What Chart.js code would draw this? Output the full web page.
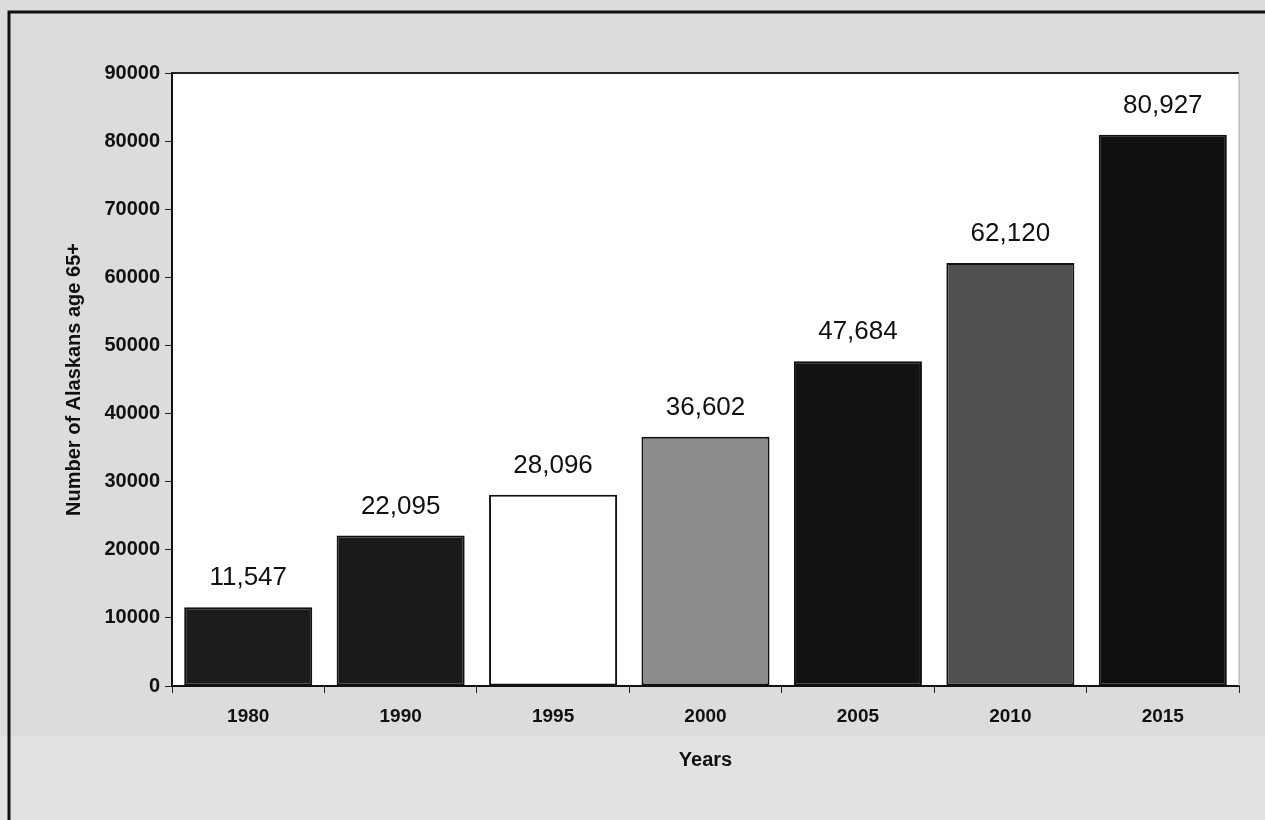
<!DOCTYPE html>
<html>
<head>
<meta charset="utf-8">
<script src="https://cdn.jsdelivr.net/npm/chart.js@4/dist/chart.umd.min.js"></script>
<style>
    html, body { margin: 0; padding: 0; background: #ffffff; }
    #wrap { width: 1265px; height: 820px; position: relative; }
</style>
</head>
<body>
<div id="wrap"><canvas id="popChart" width="1265" height="820"></canvas></div>
<script>
const years = ['1980', '1990', '1995', '2000', '2005', '2010', '2015'];
const seniors = [11547, 22095, 28096, 36602, 47684, 62120, 80927];
const barColors = ['#1c1c1c', '#1a1a1a', '#ffffff', '#8c8c8c', '#131313', '#505050', '#101010'];
const yTicks = [0, 10000, 20000, 30000, 40000, 50000, 60000, 70000, 80000, 90000];

const FONT = '"Liberation Sans", Arial, sans-serif';

// paper background, white plot area, frame lines
const paperPlugin = {
    id: 'paper',
    beforeDraw(chart) {
        const ctx = chart.ctx;
        const area = chart.chartArea;
        ctx.save();
        ctx.fillStyle = '#dcdcdc';
        ctx.fillRect(0, 0, chart.width, chart.height);
        ctx.fillStyle = '#e2e2e2';
        ctx.fillRect(0, area.bottom + 50, chart.width, chart.height);
        ctx.fillStyle = '#ffffff';
        ctx.fillRect(area.left, area.top, area.right - area.left, area.bottom - area.top);
        // outer frame
        ctx.strokeStyle = '#111';
        ctx.lineWidth = 3;
        ctx.beginPath();
        ctx.moveTo(9, chart.height);
        ctx.lineTo(9, 12);
        ctx.lineTo(chart.width, 12);
        ctx.stroke();
        ctx.restore();
    },
    afterDatasetsDraw(chart) {
        const ctx = chart.ctx;
        const area = chart.chartArea;
        ctx.save();
        ctx.strokeStyle = '#222';
        ctx.lineWidth = 2;
        ctx.beginPath();
        ctx.moveTo(area.left, area.top);
        ctx.lineTo(area.right, area.top);
        ctx.stroke();
        ctx.strokeStyle = '#aaa';
        ctx.lineWidth = 1;
        ctx.beginPath();
        ctx.moveTo(area.right, area.top);
        ctx.lineTo(area.right, area.bottom);
        ctx.stroke();

        // value labels over the bars
        const meta = chart.getDatasetMeta(0);
        ctx.fillStyle = '#111';
        ctx.font = '26px ' + FONT;
        ctx.textAlign = 'center';
        ctx.textBaseline = 'alphabetic';
        meta.data.forEach((bar, i) => {
            ctx.fillText(seniors[i].toLocaleString('en-US'), bar.x, bar.y - 22);
        });
        ctx.restore();
    }
};

new Chart(document.getElementById('popChart'), {
    type: 'bar',
    data: {
        labels: years,
        datasets: [{
            data: seniors,
            backgroundColor: barColors,
            borderColor: '#111',
            borderWidth: 2,
            borderSkipped: false,
            barPercentage: 0.84,
            categoryPercentage: 1.0
        }]
    },
    options: {
        responsive: false,
        animation: false,
        layout: {
            padding: { left: 58, right: 26, top: 73, bottom: 48 }
        },
        plugins: {
            legend: { display: false },
            tooltip: { enabled: false }
        },
        scales: {
            x: {
                grid: {
                    drawOnChartArea: false,
                    drawTicks: true,
                    tickLength: 7,
                    color: '#222',
                    offset: true
                },
                border: { color: '#111', width: 2 },
                ticks: {
                    color: '#111',
                    padding: 12,
                    font: { family: FONT, size: 19, weight: 'bold' }
                },
                title: {
                    display: true,
                    text: 'Years',
                    color: '#111',
                    padding: 0,
                    font: { family: FONT, size: 20, weight: 'bold' }
                },
                afterFit(scale) { scale.height = 86; }
            },
            y: {
                min: 0,
                max: 90000,
                afterBuildTicks(scale) { scale.ticks = yTicks.map(v => ({ value: v })); },
                grid: {
                    drawOnChartArea: false,
                    drawTicks: true,
                    tickLength: 7,
                    color: '#222'
                },
                border: { color: '#111', width: 2 },
                ticks: {
                    color: '#111',
                    padding: 5,
                    callback: v => String(v),
                    font: { family: FONT, size: 20, weight: 'bold' }
                },
                title: {
                    display: true,
                    text: 'Number of Alaskans age 65+',
                    color: '#111',
                    padding: 4,
                    font: { family: FONT, size: 20, weight: 'bold' }
                },
                afterFit(scale) { scale.width = 114; }
            }
        }
    },
    plugins: [paperPlugin]
});
</script>
</body>
</html>
